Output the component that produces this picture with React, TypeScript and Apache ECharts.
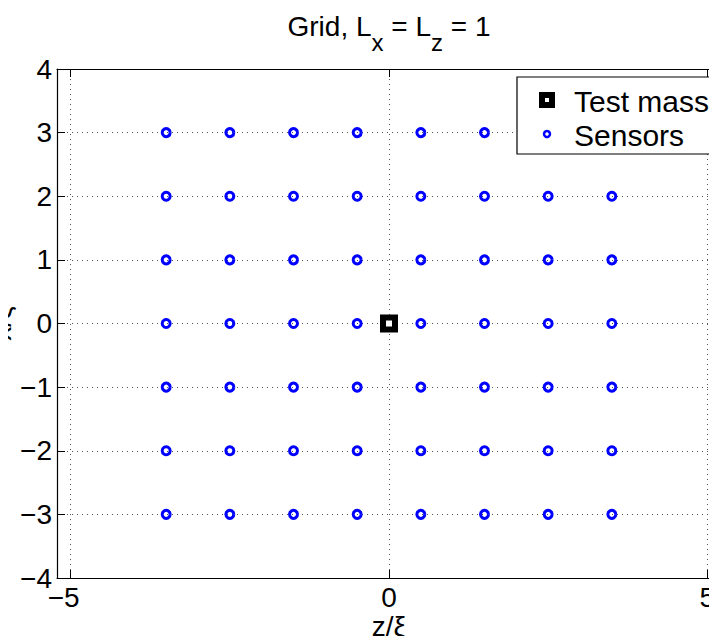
import React, { useEffect, useRef } from "react";
import * as echarts from "echarts";

// Sensor grid positions (in units of ξ)
const sensorZ = [-3.5, -2.5, -1.5, -0.5, 0.5, 1.5, 2.5, 3.5];
const sensorX = [-3, -2, -1, 0, 1, 2, 3];
const testMass = [[0, 0]];

const xTicks = [-5, 0, 5];
const yTicks = [-4, -3, -2, -1, 0, 1, 2, 3, 4];
const xRange = [-5.215, 5.215];
const yRange = [-4, 4];

// Title pieces: [text, isSubscript]
const titleParts: [string, boolean][] = [
  ["Grid, L", false],
  ["x", true],
  [" = L", false],
  ["z", true],
  [" = 1", false],
];

const FONT = "Liberation Sans, Arial, Helvetica, sans-serif";
const FS = 28;
const SUB_FS = 24;
const LEGEND_FS = 30;

const fmt = (v: number) => (v < 0 ? "\u2212" + Math.abs(v) : String(v));

function measure(text: string, size: number) {
  const ctx = document.createElement("canvas").getContext("2d");
  if (!ctx) return text.length * size * 0.55;
  ctx.font = `${size}px ${FONT}`;
  return ctx.measureText(text).width;
}

export default function App() {
  const ref = useRef<HTMLDivElement>(null);

  useEffect(() => {
    if (!ref.current) return;
    const chart = echarts.init(ref.current, undefined, { renderer: "svg" });

    const sensors: number[][] = [];
    for (const x of sensorX) for (const z of sensorZ) sensors.push([z, x]);

    // Title laid out piece by piece so subscripts sit below the baseline
    const widths = titleParts.map(([t, sub]) => measure(t, sub ? SUB_FS : FS));
    const total = widths.reduce((a, b) => a + b, 0);
    let cursor = 389 - total / 2;
    const titleTexts = titleParts.map(([t, sub], i) => {
      const el = {
        type: "text",
        x: cursor,
        y: sub ? 42 : 26,
        style: {
          text: t,
          font: `${sub ? SUB_FS : FS}px ${FONT}`,
          fill: "#000",
          verticalAlign: "middle",
        },
      };
      cursor += widths[i];
      return el;
    });

    const gridLine = { show: true, lineStyle: { color: "#555", width: 1, type: [1, 4] } };
    const axisLine = { show: true, onZero: false, lineStyle: { color: "#000", width: 1.2 } };
    const tick = { show: true, inside: true, length: 8, lineStyle: { color: "#000", width: 1 } };

    chart.setOption({
      animation: false,
      backgroundColor: "#fff",
      textStyle: { fontFamily: FONT },
      grid: { left: 57, top: 69, width: 664, height: 509, outerBoundsMode: "none", containLabel: false },
      xAxis: [
        {
          type: "value",
          min: xRange[0],
          max: xRange[1],
          position: "bottom",
          axisLine,
          axisTick: { ...tick, customValues: xTicks },
          splitLine: gridLine,
          axisLabel: {
            customValues: xTicks,
            formatter: (v: number) => (v < 0 ? "{n|" + fmt(v) + "}" : fmt(v)),
            rich: { n: { fontFamily: FONT, fontSize: FS, color: "#000", padding: [0, 14, 0, 0] } },
            fontFamily: FONT,
            fontSize: FS,
            color: "#000",
            margin: 5,
          },
          name: "z/\u03be",
          nameLocation: "middle",
          nameGap: 34,
          nameMoveOverlap: false,
          nameTextStyle: { fontFamily: FONT, fontSize: FS, color: "#000" },
        },
        {
          type: "value",
          min: xRange[0],
          max: xRange[1],
          position: "top",
          axisLine,
          axisTick: { ...tick, customValues: xTicks },
          axisLabel: { show: false },
          splitLine: { show: false },
        },
      ],
      yAxis: [
        {
          type: "value",
          min: yRange[0],
          max: yRange[1],
          interval: 1,
          position: "left",
          axisLine,
          axisTick: { ...tick, customValues: yTicks },
          splitLine: gridLine,
          axisLabel: {
            formatter: fmt,
            fontFamily: FONT,
            fontSize: FS,
            color: "#000",
            margin: 5,
          },
          name: "x/\u03be",
          nameLocation: "middle",
          nameRotate: 90,
          nameGap: 42,
          nameMoveOverlap: false,
          nameTextStyle: { fontFamily: FONT, fontSize: FS, color: "#000" },
        },
        {
          type: "value",
          min: yRange[0],
          max: yRange[1],
          interval: 1,
          position: "right",
          axisLine,
          axisTick: tick,
          axisLabel: { show: false },
          splitLine: { show: false },
        },
      ],
      series: [
        {
          name: "Sensors",
          type: "scatter",
          data: sensors,
          symbol: "circle",
          symbolSize: 8,
          itemStyle: { color: "rgba(255,255,255,0)", borderColor: "#0000ff", borderWidth: 3, opacity: 1 },
          z: 3,
        },
        {
          name: "Test mass",
          type: "scatter",
          data: testMass,
          symbol: "rect",
          symbolSize: 12,
          itemStyle: { color: "#fff", borderColor: "#000", borderWidth: 6, opacity: 1 },
          z: 4,
        },
      ],
      graphic: [
        { type: "group", z: 100, children: titleTexts },
        {
          type: "group",
          z: 100,
          children: [
            {
              type: "rect",
              shape: { x: 517, y: 77, width: 196, height: 77 },
              style: { fill: "#fff", stroke: "#000", lineWidth: 1.2 },
              z: 100,
            },
            {
              type: "rect",
              shape: { x: 542, y: 95, width: 10, height: 10 },
              style: { fill: "#fff", stroke: "#000", lineWidth: 6 },
              z: 101,
            },
            {
              type: "circle",
              shape: { cx: 547, cy: 134, r: 3 },
              style: { fill: "#fff", stroke: "#0000ff", lineWidth: 2.5 },
              z: 101,
            },
            {
              type: "text",
              x: 574,
              y: 101,
              style: {
                text: "Test mass",
                font: `${LEGEND_FS}px ${FONT}`,
                fill: "#000",
                verticalAlign: "middle",
              },
              z: 101,
            },
            {
              type: "text",
              x: 574,
              y: 135,
              style: {
                text: "Sensors",
                font: `${LEGEND_FS}px ${FONT}`,
                fill: "#000",
                verticalAlign: "middle",
              },
              z: 101,
            },
          ],
        },
      ],
    });

    return () => chart.dispose();
  }, []);

  return <div ref={ref} style={{ width: 717, height: 644, margin: -8 }} />;
}
